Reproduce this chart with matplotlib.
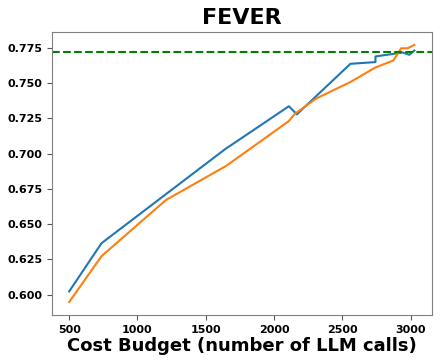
import matplotlib
matplotlib.use("Agg")
import matplotlib.pyplot as plt

# values
blue_x = [500, 737, 1640, 2108, 2167, 2559, 2742, 2742, 2942, 2990, 3027]
blue_y = [0.6023, 0.6365, 0.7030, 0.7335, 0.7278, 0.7636, 0.7648, 0.7688, 0.7716, 0.7700, 0.7730]
orange_x = [500, 737, 1207, 1650, 2108, 2150, 2308, 2559, 2742, 2874, 2930, 2978, 3027]
orange_y = [0.5948, 0.6273, 0.6670, 0.6913, 0.7230, 0.7280, 0.7390, 0.7507, 0.7610, 0.7660, 0.7746, 0.7746, 0.7770]
baseline = 0.7722

fig = plt.figure(figsize=(4.4, 3.64), dpi=100)
ax = fig.add_axes([0.118, 0.135, 0.863, 0.777])

ax.plot(blue_x, blue_y, color="tab:blue", linewidth=1.5)
ax.plot(orange_x, orange_y, color="tab:orange", linewidth=1.5)
ax.axhline(baseline, color="green", linestyle="--", linewidth=1.5)

ax.set_title("FEVER", fontsize=16, fontweight="bold")
ax.set_xlabel("Cost Budget (number of LLM calls)", fontsize=13, fontweight="bold", labelpad=2)
ax.set_xticks([500, 1000, 1500, 2000, 2500, 3000])
ax.set_yticks([0.600, 0.625, 0.650, 0.675, 0.700, 0.725, 0.750, 0.775])
for lab in ax.get_xticklabels() + ax.get_yticklabels():
    lab.set_fontweight("bold")
ax.tick_params(labelsize=8, color="#555555")
for s in ax.spines.values():
    s.set_color("#808080")

fig.savefig("out.png", dpi=100)
